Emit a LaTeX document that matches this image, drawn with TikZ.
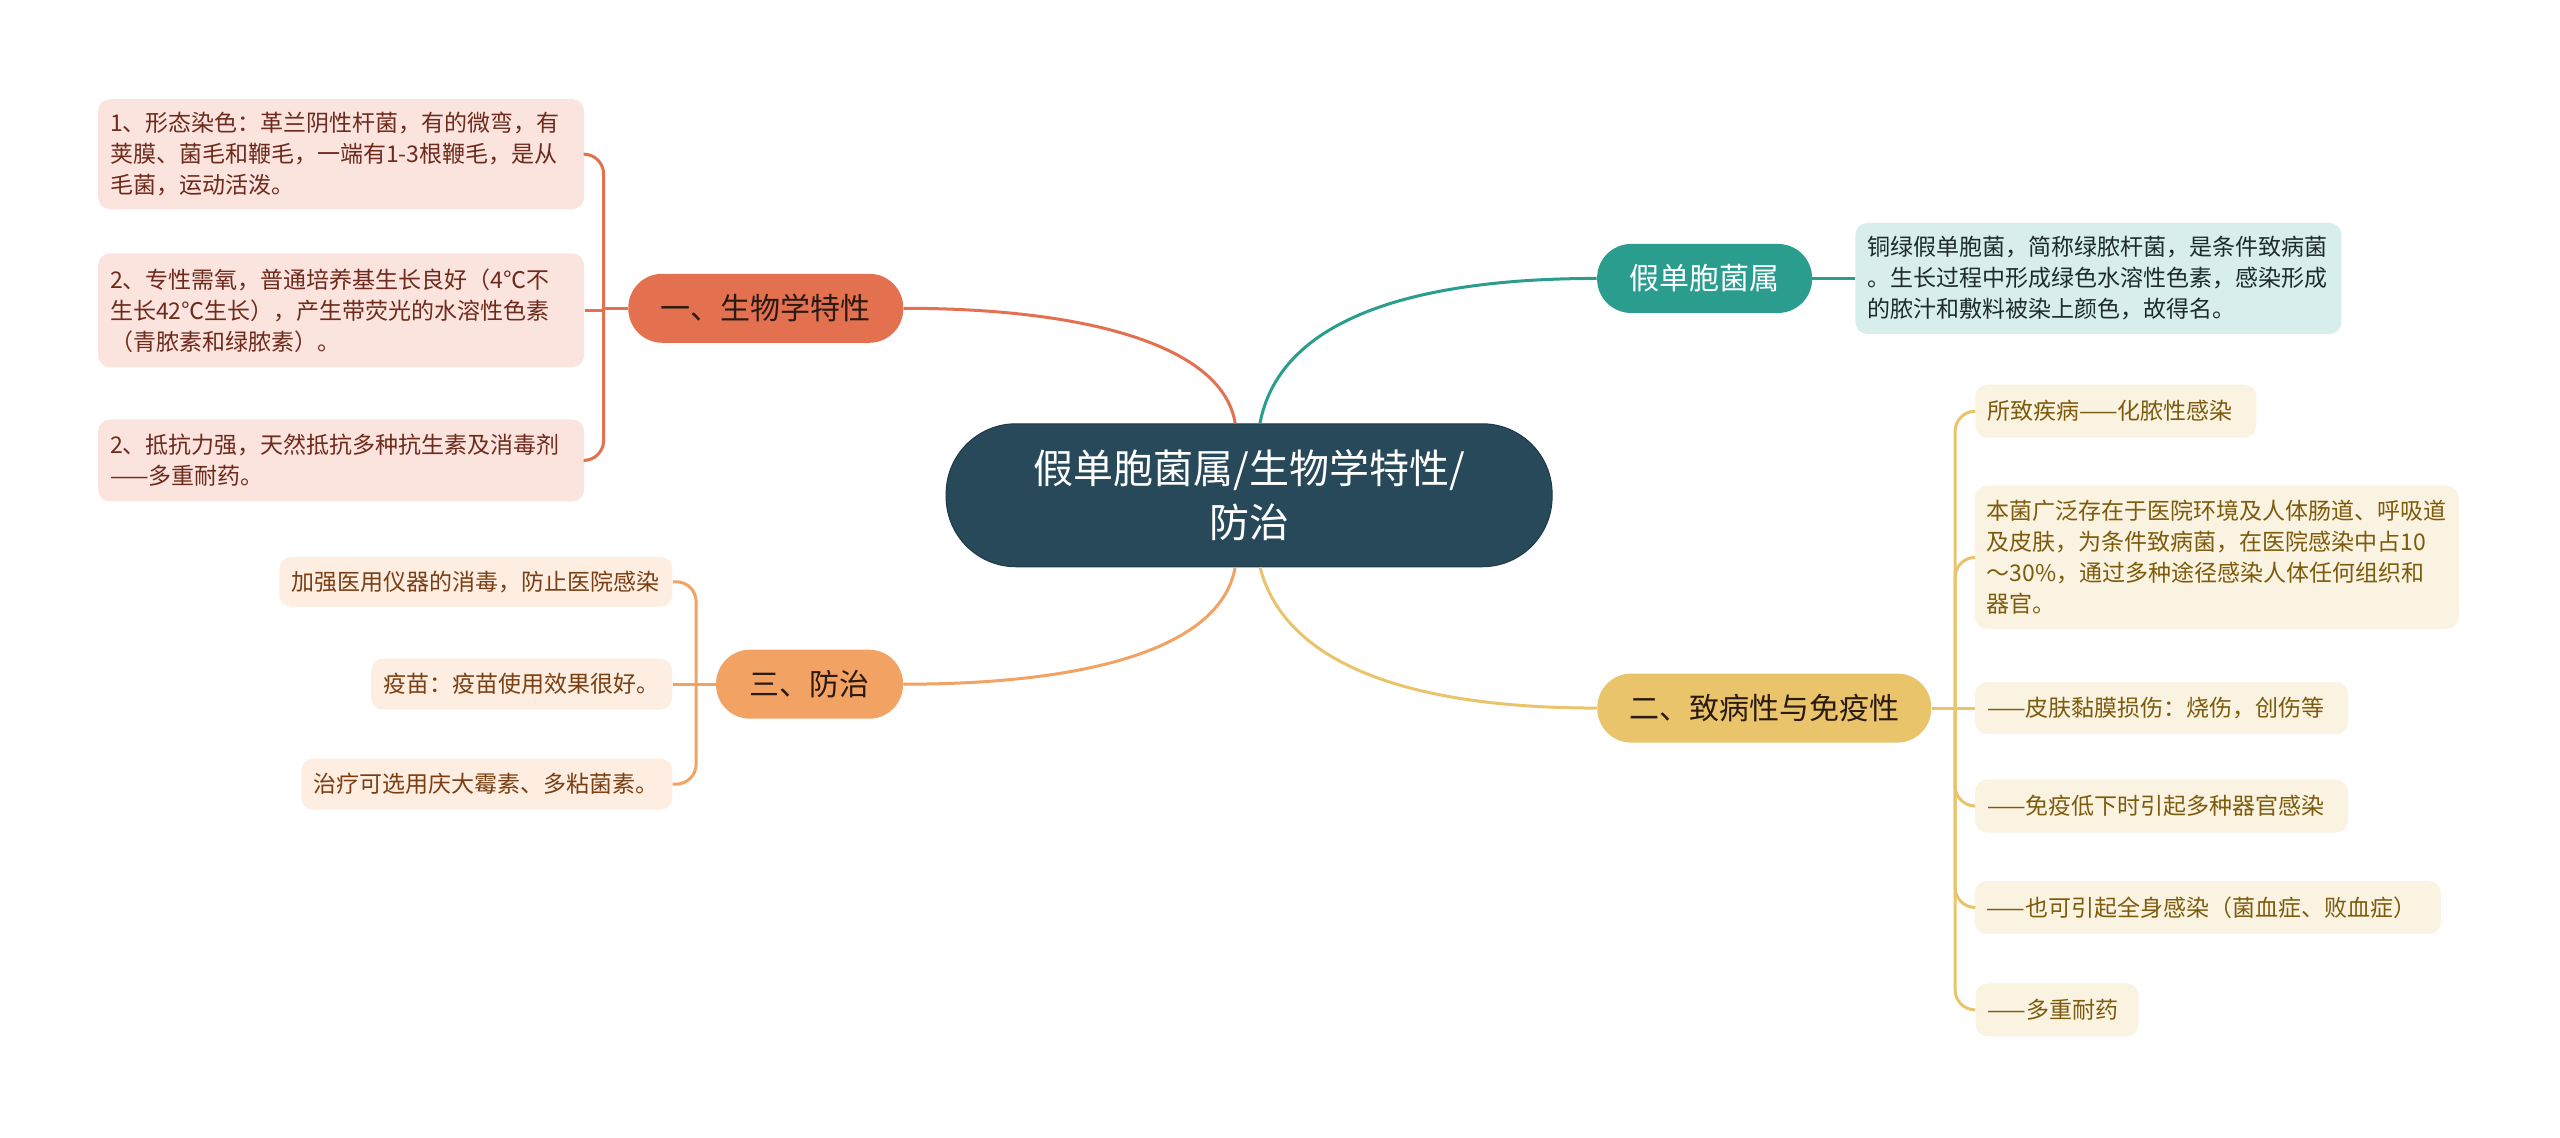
\documentclass[tikz,border=0pt]{standalone}
\usepackage{fontspec}
\setmainfont{Noto Sans CJK SC}
\definecolor{cdark}{HTML}{27495A}
\definecolor{ccoral}{HTML}{E3714F}
\definecolor{ccoralL}{HTML}{FBE4DE}
\definecolor{ccoralT}{HTML}{6E2A1C}
\definecolor{corange}{HTML}{F2A262}
\definecolor{corangeL}{HTML}{FDEEE1}
\definecolor{corangeT}{HTML}{7A3E12}
\definecolor{cteal}{HTML}{2A9D8F}
\definecolor{ctealL}{HTML}{D8EEEC}
\definecolor{ctealT}{HTML}{1E2B2B}
\definecolor{cyel}{HTML}{E9C46A}
\definecolor{cyelL}{HTML}{FBF3E1}
\definecolor{cyelT}{HTML}{7D5B0C}
\definecolor{cbrT}{HTML}{2B1A12}
\begin{document}
\begin{tikzpicture}[x=0.5pt,y=-0.5pt,
  root/.style={fill=cdark, draw=cdark!80!black, line width=0.5pt, text=white, rounded corners=35pt, minimum width=303pt, minimum height=71.5pt, align=center, font=\fontsize{20}{27}\selectfont},
  br/.style={rounded corners=17pt, minimum height=34.5pt, text=cbrT, font=\fontsize{15}{18}\selectfont},
  leaf/.style={rounded corners=6pt, align=left, inner xsep=6pt, inner ysep=0pt, font=\fontsize{11.5}{15.5}\selectfont},
  link/.style={line width=1.5pt},
]
\useasboundingbox (0,0) rectangle (2560,1138);
\fill[white] (0,0) rectangle (2560,1138);
\begin{scope}[scale=0.9945]
% root and branches
\node[root] (root) at (1256,498) {假单胞菌属/生物学特性/\\防治};
\node[br, fill=ccoral, minimum width=137.5pt] (b1) at (770,310) {一、生物学特性};
\node[br, fill=corange, minimum width=93.5pt] (b3) at (814,688) {三、防治};
\node[br, fill=cteal, text=white, minimum width=107.5pt] (bt) at (1714,280) {假单胞菌属};
\node[br, fill=cyel, minimum width=167pt] (b2) at (1774,712) {二、致病性与免疫性};

% left coral leaves
\node[leaf, fill=ccoralL, text=ccoralT, text width=231pt, minimum height=55pt] (L1) at (343,155) {1、形态染色：革兰阴性杆菌，有的微弯，有\\荚膜、菌毛和鞭毛，一端有1-3根鞭毛，是从\\毛菌，运动活泼。};
\node[leaf, fill=ccoralL, text=ccoralT, text width=231pt, minimum height=57pt] (L2) at (343,312) {2、专性需氧，普通培养基生长良好（4℃不\\生长42℃生长），产生带荧光的水溶性色素\\（青脓素和绿脓素）。};
\node[leaf, fill=ccoralL, text=ccoralT, text width=231pt, minimum height=41pt] (L3) at (343,463) {2、抵抗力强，天然抵抗多种抗生素及消毒剂\\——多重耐药。};

% orange leaves
\node[leaf, fill=corangeL, text=corangeT, text width=184.5pt, minimum height=25pt] (O1) at (478.5,585) {加强医用仪器的消毒，防止医院感染};
\node[leaf, fill=corangeL, text=corangeT, text width=138.5pt, minimum height=25.5pt] (O2) at (524.5,688) {疫苗：疫苗使用效果很好。};
\node[leaf, fill=corangeL, text=corangeT, text width=173.5pt, minimum height=25.5pt] (O3) at (489.5,788.5) {治疗可选用庆大霉素、多粘菌素。};

% teal leaf
\node[leaf, fill=ctealL, text=ctealT, text width=231pt, minimum height=55.5pt] (T1) at (2110,280) {铜绿假单胞菌，简称绿脓杆菌，是条件致病菌\\。生长过程中形成绿色水溶性色素，感染形成\\的脓汁和敷料被染上颜色，故得名。};

% yellow leaves
\node[leaf, fill=cyelL, text=cyelT, text width=128.5pt, minimum height=26.5pt] (Y1) at (2127.5,413.5) {所致疾病——化脓性感染};
\node[leaf, fill=cyelL, text=cyelT, text width=230pt, minimum height=71.5pt] (Y2) at (2229,560.5) {本菌广泛存在于医院环境及人体肠道、呼吸道\\及皮肤，为条件致病菌，在医院感染中占10\\～30\%，通过多种途径感染人体任何组织和\\器官。};
\node[leaf, fill=cyelL, text=cyelT, text width=174.5pt, minimum height=26pt] (Y3) at (2173.5,712) {——皮肤黏膜损伤：烧伤，创伤等};
\node[leaf, fill=cyelL, text=cyelT, text width=174.5pt, minimum height=26.5pt] (Y4) at (2173.5,810.5) {——免疫低下时引起多种器官感染};
\node[leaf, fill=cyelL, text=cyelT, text width=221pt, minimum height=26.5pt] (Y5) at (2220,912.5) {——也可引起全身感染（菌血症、败血症）};
\node[leaf, fill=cyelL, text=cyelT, text width=69.5pt, minimum height=26.5pt] (Y6) at (2068.5,1015.5) {——多重耐药};

% root connectors
\draw[link, ccoral] ([xshift=-7pt]root.north) .. controls (1230,350) and (1100,310) .. (b1.east);
\draw[link, cteal] ([xshift=5.5pt]root.north) .. controls (1285,330) and (1400,280) .. (bt.west);
\draw[link, corange] ([xshift=-7pt]root.south) .. controls (1228,650) and (1100,688) .. (b3.east);
\draw[link, cyel] ([xshift=5.5pt]root.south) .. controls (1290,660) and (1400,712) .. (b2.west);

% coral bracket
\coordinate (j1) at (607,310);
\draw[link, ccoral] (b1.west) -- (j1);
\draw[link, ccoral, rounded corners=10pt] (j1) |- (L1.east);
\draw[link, ccoral] (j1) |- (L2.east);
\draw[link, ccoral, rounded corners=10pt] (j1) |- (L3.east);

% orange bracket
\coordinate (j3) at (700,688);
\draw[link, corange] (b3.west) -- (j3);
\draw[link, corange, rounded corners=10pt] (j3) |- (O1.east);
\draw[link, corange] (j3) -- (O2.east);
\draw[link, corange, rounded corners=10pt] (j3) |- (O3.east);

% teal
\draw[link, cteal] (bt.east) -- (T1.west);

% yellow bracket
\coordinate (j2) at (1966,712);
\draw[link, cyel] (b2.east) -- (j2);
\draw[link, cyel, rounded corners=10pt] (j2) |- (Y1.west);
\draw[link, cyel, rounded corners=10pt] (j2) |- (Y2.west);
\draw[link, cyel] (j2) -- (Y3.west);
\draw[link, cyel, rounded corners=10pt] (j2) |- (Y4.west);
\draw[link, cyel, rounded corners=10pt] (j2) |- (Y5.west);
\draw[link, cyel, rounded corners=10pt] (j2) |- (Y6.west);
\end{scope}
\end{tikzpicture}
\end{document}
